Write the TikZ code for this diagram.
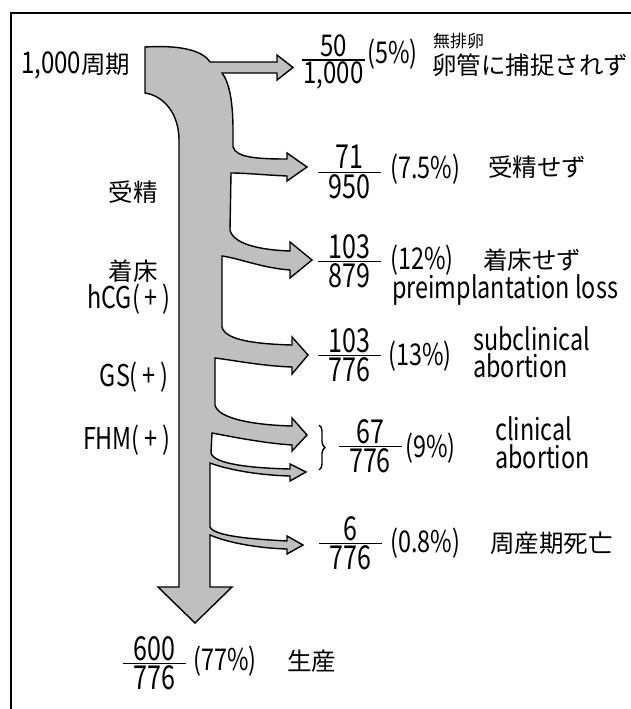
\documentclass[tikz,border=0pt]{standalone}
\usepackage{fontspec}
\usepackage{amsmath}
\setmainfont{Noto Sans CJK JP}
\newfontfamily\cjkfont{Noto Sans CJK JP}
\newfontfamily\latfont[FakeStretch=0.78]{Noto Sans CJK JP}
\newfontfamily\latffont[FakeStretch=0.76]{Noto Sans CJK JP}
\newfontfamily\latwfont[FakeStretch=0.80]{Noto Sans CJK JP}
\usetikzlibrary{decorations.pathreplacing}
\newcommand{\myfr}[2]{$\genfrac{}{}{1.3pt}{1}{\makebox[63pt]{#1}}{\makebox[63pt]{#2}}$}
\newcommand{\pl}{(\,+\,)}
\tikzset{
  flow/.style={draw=black, line width=1.4pt, fill=gray!50, line join=miter},
  frame/.style={draw=black, line width=1.5pt},
  jp/.style={inner sep=0pt, font=\fontsize{24.5}{27}\selectfont\cjkfont},
  jps/.style={inner sep=0pt, font=\fontsize{17}{19}\selectfont\cjkfont},
  lt/.style={inner sep=0pt, font=\fontsize{30}{32}\selectfont\latfont},
  fr/.style={inner sep=0pt, font=\fontsize{33}{35}\selectfont\latffont},
  frs/.style={inner sep=0pt, font=\fontsize{30}{32}\selectfont\latwfont},
  brc/.style={draw=black, line width=1.4pt, decorate, decoration={brace, amplitude=6pt}},
}
\begin{document}
\begin{tikzpicture}[x=1pt, y=-1pt]
\useasboundingbox (0,0) rectangle (631,709);
\draw[frame] (631,13) -- (11,13) -- (11,709);

% main flow shape
\draw[flow] (145,47)
 .. controls (180,45) and (202,50) .. (210,62)
 -- (277,62) -- (277,55) -- (293,67.5) -- (277,80) -- (277,73) -- (222,73)
 .. controls (230,83) and (233,105) .. (233,130)
 -- (233,147)
 .. controls (236,158) and (260,159) .. (287,159)
 -- (287,153) -- (307,167) -- (287,181) -- (287,176)
 .. controls (265,175) and (245,173) .. (231,173)
 -- (230,230)
 .. controls (233,244) and (260,250) .. (290,251)
 -- (290,242) -- (312,260) -- (290,278) -- (290,270)
 .. controls (262,268) and (238,258) .. (222,256)
 -- (222,327)
 .. controls (225,340) and (255,344) .. (292,345)
 -- (292,337) -- (308,355) -- (292,374) -- (292,367)
 .. controls (262,366) and (232,360) .. (215,358)
 -- (215,405)
 .. controls (218,419) and (255,425) .. (292,426)
 -- (292,418) -- (307,435) -- (292,451) -- (292,445)
 .. controls (262,443) and (228,436) .. (212,433)
 -- (211,453)
 .. controls (214,464) and (250,468) .. (290,469)
 -- (290,464) -- (306,472) -- (290,481) -- (290,476)
 .. controls (255,475) and (226,469) .. (210,463)
 -- (210,527)
 .. controls (214,536) and (250,539) .. (287,541)
 -- (287,536) -- (303,545) -- (287,554) -- (287,549)
 .. controls (255,548) and (226,542) .. (210,535)
 -- (210,587) -- (232,587) -- (195,623) -- (158,587) -- (179,587)
 -- (179,140)
 .. controls (179,115) and (165,96) .. (145,93)
 -- cycle;

% left labels
\node[jp, anchor=west] (start) at (21,65) {{\fontsize{30}{32}\selectfont\latwfont 1,000}周期};
\node[jp, anchor=east] (jusei) at (158,192) {受精};
\node[jp, anchor=east] (chakusho) at (158,271) {着床};
\node[lt, anchor=base east] (hcg) at (171,308) {hCG\pl};
\node[lt, anchor=base east] (gs) at (169,386) {GS\pl};
\node[lt, anchor=base east] (fhm) at (171,449) {FHM\pl};

% row 1
\node[frs] (f1) at (333.5,62) {\myfr{50}{1,000}};
\node[lt, anchor=west] (p1) at (367,54) {(5\%)};
\node[jps, anchor=west] (t1a) at (433,41) {無排卵};
\node[jp, anchor=west] (t1b) at (432,65) {卵管に捕捉されず};

% row 2
\node[fr] (f2) at (349.5,172) {\myfr{71}{950}};
\node[lt, anchor=west] (p2) at (390,169) {(7.5\%)};
\node[jp, anchor=west] (t2) at (488,167) {受精せず};

% row 3
\node[fr] (f3) at (349.5,261) {\myfr{103}{879}};
\node[lt, anchor=west] (p3) at (390,260) {(12\%)};
\node[jp, anchor=west] (t3) at (483,260) {着床せず};
\node[lt, anchor=base west] (t3b) at (392,298) {preimplantation loss};

% row 4
\node[fr] (f4) at (349.5,355) {\myfr{103}{776}};
\node[lt, anchor=west] (p4) at (388,356) {(13\%)};
\node[lt, anchor=base west] (t4a) at (473,350) {subclinical};
\node[lt, anchor=base west] (t4b) at (473,377) {abortion};

% row 5
\coordinate (b5top) at (319,425);
\coordinate (b5bot) at (319,470);
\draw[brc] (b5top) -- (b5bot);
\node[fr] (f5) at (370,446) {\myfr{67}{776}};
\node[lt, anchor=west] (p5) at (405,448) {(9\%)};
\node[lt, anchor=base west] (t5a) at (495,440) {clinical};
\node[lt, anchor=base west] (t5b) at (495,468) {abortion};

% row 6
\node[fr] (f6) at (350.5,543) {\myfr{6}{776}};
\node[lt, anchor=west] (p6) at (390,543) {(0.8\%)};
\node[jp, anchor=west] (t6) at (490,543) {周産期死亡};

% bottom
\node[fr] (f7) at (154.5,663) {\myfr{600}{776}};
\node[lt, anchor=west] (p7) at (193,661) {(77\%)};
\node[jp, anchor=west] (t7) at (287,661) {生産};
\end{tikzpicture}
\end{document}
